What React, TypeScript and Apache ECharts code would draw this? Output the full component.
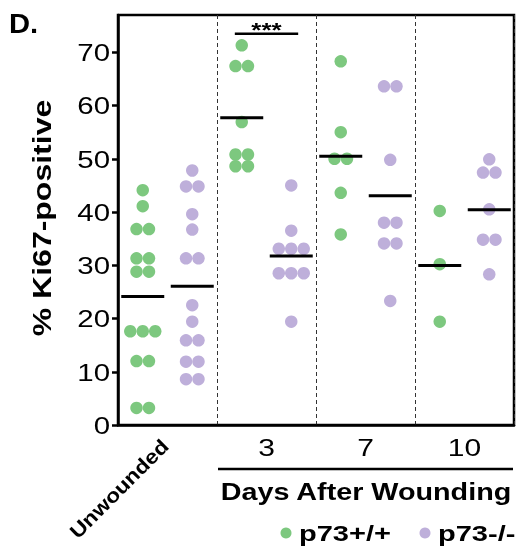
import React, { useEffect, useRef } from "react";
import * as echarts from "echarts";

// ---------- data ----------
const categories = ["Unwounded", "3", "7", "10"];
const yTicks = [0, 10, 20, 30, 40, 50, 60, 70];
const seriesNames = ["p73+/+", "p73-/-"];
const wtValues = [
  [44.1, 41.1, 36.8, 36.8, 31.3, 31.3, 28.8, 28.8, 17.6, 17.6, 17.6, 12.0, 12.0, 3.2, 3.2],
  [71.3, 67.4, 67.4, 56.9, 50.8, 50.8, 48.6, 48.6],
  [68.3, 55.0, 50.0, 50.0, 43.6, 35.8],
  [40.2, 30.2, 19.4],
];
const koValues = [
  [47.8, 44.8, 44.8, 39.6, 36.7, 31.3, 31.3, 22.5, 19.4, 15.9, 15.9, 11.9, 11.9, 8.6, 8.6],
  [45.0, 36.5, 33.1, 33.1, 33.1, 28.5, 28.5, 28.5, 19.4],
  [63.6, 63.6, 49.8, 38.0, 38.0, 34.1, 34.1, 23.3],
  [49.9, 47.4, 47.4, 40.5, 34.8, 34.8, 28.3],
];
const colors = ["#7DC87F", "#BEAFDA"];
const yTitle = "% Ki67-positive";
const xTitle = "Days After Wounding";
const panelLabel = "D.";
const sigLabel = "***";
const sigGroup = 1;
const sigValue = 73.5;

// ---------- layout helpers ----------
const FONT = "'Liberation Sans', Arial, Helvetica, sans-serif";
const SX = 1.28;
const DOT = 12.5;
const STEP = 0.126; // horizontal step between dots in a row (x units)
const SIDE = 0.25;

function swarm(values: number[], center: number): number[][] {
  const counts = new Map<number, number>();
  values.forEach((v) => counts.set(v, (counts.get(v) || 0) + 1));
  const seen = new Map<number, number>();
  return values.map((v) => {
    const n = counts.get(v) || 1;
    const i = seen.get(v) || 0;
    seen.set(v, i + 1);
    return [center + (i - (n - 1) / 2) * STEP, v];
  });
}
const mean = (a: number[]) => a.reduce((s, v) => s + v, 0) / a.length;

export default function App() {
  const ref = useRef<HTMLDivElement>(null);
  useEffect(() => {
    document.body.style.margin = "0";
    const chart = echarts.init(ref.current!, null, { renderer: "svg" });
    const groups = [wtValues, koValues];
    const dotSeries = groups.map((g, s) => ({
      name: seriesNames[s],
      type: "scatter",
      xAxisIndex: 1,
      yAxisIndex: 0,
      symbol: "circle",
      symbolSize: DOT,
      itemStyle: { color: colors[s], opacity: 1 },
      z: 2,
      data: g.flatMap((vals, gi) => swarm(vals, gi + 0.5 + (s === 0 ? -SIDE : SIDE))),
    }));
    const meanData: number[][] = [];
    groups.forEach((g, s) =>
      g.forEach((vals, gi) => meanData.push([gi + 0.5 + (s === 0 ? -SIDE : SIDE), mean(vals)]))
    );
    chart.setOption({
      animation: false,
      grid: {
        left: 118,
        right: 8,
        top: 15,
        bottom: 125,
        show: true,
        borderColor: "#000",
        borderWidth: 2.5,
      },
      xAxis: [
        {
          type: "category",
          data: categories,
          position: "bottom",
          axisLine: { lineStyle: { color: "#000", width: 2.5 } },
          axisTick: { alignWithLabel: true, length: 7, lineStyle: { color: "#000", width: 2.5 } },
          axisLabel: { show: false },
          splitLine: { show: false },
        },
        {
          type: "value",
          min: 0,
          max: 4,
          interval: 1,
          position: "bottom",
          axisLine: { show: false },
          axisTick: { show: false },
          axisLabel: { show: false },
          splitLine: { show: true, lineStyle: { type: [4, 3], color: "#333", width: 1 } },
        },
      ],
      yAxis: {
        type: "value",
        min: 0,
        max: 77,
        axisLine: { show: true, lineStyle: { color: "#000", width: 2.5 } },
        axisTick: { show: true, length: 6, customValues: yTicks, lineStyle: { color: "#000", width: 2.5 } },
        axisLabel: { show: false },
        splitLine: { show: false },
      },
      series: [
        ...dotSeries,
        {
          name: "mean",
          type: "scatter",
          xAxisIndex: 1,
          yAxisIndex: 0,
          symbol: "rect",
          symbolSize: [43, 3],
          itemStyle: { color: "#000", opacity: 1 },
          z: 5,
          data: meanData,
        },
      ],
    });

    const g: any[] = [];
    // y tick labels
    yTicks.forEach((t) => {
      const py = chart.convertToPixel({ yAxisIndex: 0 }, t) as number;
      g.push({
        type: "text",
        x: 110,
        y: py + 1,
        scaleX: SX,
        style: { text: String(t), fontFamily: FONT, fontSize: 23, fill: "#000", align: "right", verticalAlign: "middle" },
      });
    });
    // x category labels
    categories.forEach((c, i) => {
      const px = chart.convertToPixel({ xAxisIndex: 1 }, i + 0.5) as number;
      if (i === 0) {
        g.push({
          type: "text",
          x: px - 2,
          y: 443,
          rotation: Math.PI / 4,
          scaleX: 1.14,
          style: { text: c, fontFamily: FONT, fontSize: 20, fontWeight: "bold", fill: "#000", align: "right", verticalAlign: "middle" },
        });
      } else {
        g.push({
          type: "text",
          x: px,
          y: 448,
          scaleX: 1.25,
          style: { text: c, fontFamily: FONT, fontSize: 24, fill: "#000", align: "center", verticalAlign: "middle" },
        });
      }
    });
    // x title with line
    g.push({ type: "line", shape: { x1: 218, y1: 469, x2: 513, y2: 469 }, style: { stroke: "#000", lineWidth: 2.5 } });
    g.push({
      type: "text",
      x: 366,
      y: 492,
      scaleX: 1.25,
      style: { text: xTitle, fontFamily: FONT, fontSize: 23, fontWeight: "bold", fill: "#000", align: "center", verticalAlign: "middle" },
    });
    // y title
    g.push({
      type: "text",
      x: 42,
      y: 218,
      rotation: Math.PI / 2,
      scaleX: SX,
      style: { text: yTitle, fontFamily: FONT, fontSize: 25, fontWeight: "bold", fill: "#000", align: "center", verticalAlign: "middle" },
    });
    // panel label
    g.push({
      type: "text",
      x: 9,
      y: 24,
      scaleX: 1.08,
      style: { text: panelLabel, fontFamily: FONT, fontSize: 27, fontWeight: "bold", fill: "#000", align: "left", verticalAlign: "middle" },
    });
    // significance
    const sx1 = chart.convertToPixel({ xAxisIndex: 1 }, sigGroup + 0.5 - SIDE - 0.07) as number;
    const sx2 = chart.convertToPixel({ xAxisIndex: 1 }, sigGroup + 0.5 + SIDE + 0.07) as number;
    const sy = chart.convertToPixel({ yAxisIndex: 0 }, sigValue) as number;
    g.push({ type: "line", shape: { x1: sx1, y1: sy, x2: sx2, y2: sy }, style: { stroke: "#000", lineWidth: 2.5 } });
    g.push({
      type: "text",
      x: (sx1 + sx2) / 2,
      y: sy - 4,
      scaleX: 1.3,
      style: { text: sigLabel, fontFamily: FONT, fontSize: 20, fontWeight: "bold", fill: "#000", align: "center", verticalAlign: "middle" },
    });
    // legend
    const legendX = [286, 425];
    seriesNames.forEach((n, s) => {
      g.push({ type: "circle", shape: { cx: legendX[s], cy: 533, r: 5.5 }, style: { fill: colors[s] } });
      g.push({
        type: "text",
        x: legendX[s] + 13,
        y: 533,
        scaleX: 1.32,
        style: { text: n, fontFamily: FONT, fontSize: 22, fontWeight: "bold", fill: "#000", align: "left", verticalAlign: "middle" },
      });
    });
    chart.setOption({ graphic: g });
    return () => chart.dispose();
  }, []);
  return <div ref={ref} style={{ position: "fixed", left: 0, top: 0, width: 522, height: 550 }} />;
}
